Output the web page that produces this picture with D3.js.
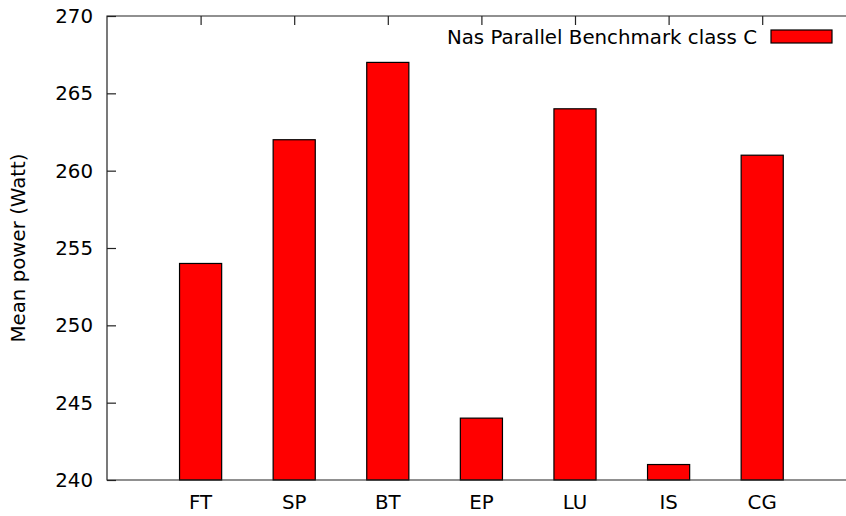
<!DOCTYPE html>
<html>
<head>
<meta charset="utf-8">
<script src="https://cdn.jsdelivr.net/npm/d3@7"></script>
<style>
	body { margin: 0; background: #fff; }
	svg { display: block; }
	text { font-family: "DejaVu Sans", sans-serif; fill: #000; }
</style>
</head>
<body>
<svg id="chart"></svg>
<script>
// values
const benchmarks = ["FT", "SP", "BT", "EP", "LU", "IS", "CG"]
const meanPower = [254, 262, 267, 244, 264, 241, 261]
const yTicks = [240, 245, 250, 255, 260, 265, 270]
const seriesName = "Nas Parallel Benchmark class C"
const yTitle = "Mean power (Watt)"

const width = 846
const height = 516
const margin = {top: 16, left: 107, bottom: 36}
const fontSize = 19.8
const tickLen = 9
const barWidth = 0.45

const x = d3.scaleLinear().domain([0, 8]).range([margin.left, margin.left + 8 * 93.6])
const y = d3.scaleLinear().domain([240, 270]).range([height - margin.bottom, margin.top])

const svg = d3.select("#chart")
	.attr("width", width)
	.attr("height", height)

// y axis, ticks pointing inward
const yAxis = svg.append("g")
	.attr("transform", "translate(" + x(0) + ",0)")
	.call(d3.axisRight(y).tickValues(yTicks).tickSize(tickLen).tickFormat(""))
yAxis.select(".domain").remove()
yAxis.selectAll("line").attr("stroke", "#222").attr("stroke-width", 1.2)
svg.append("g")
	.selectAll("text")
	.data(yTicks)
	.join("text")
	.attr("x", x(0) - 14)
	.attr("y", d => y(d))
	.attr("dy", "0.36em")
	.attr("text-anchor", "end")
	.style("font-size", fontSize + "px")
	.text(d => d)

// x axis labels and mirrored ticks on top
const cats = benchmarks.map((b, i) => i + 1)
const xAxisTop = svg.append("g")
	.attr("transform", "translate(0," + y(270) + ")")
	.call(d3.axisBottom(x).tickValues(cats).tickSize(tickLen).tickFormat(""))
xAxisTop.select(".domain").remove()
xAxisTop.selectAll("line").attr("stroke", "#222").attr("stroke-width", 1.2)
svg.append("g")
	.selectAll("text")
	.data(benchmarks)
	.join("text")
	.attr("x", (d, i) => x(i + 1))
	.attr("y", y(240) + 29)
	.attr("text-anchor", "middle")
	.style("font-size", fontSize + "px")
	.text(d => d)

// bars (cover the bottom ticks, as in the original)
svg.append("g")
	.selectAll("rect")
	.data(meanPower)
	.join("rect")
	.attr("x", (d, i) => x(i + 1 - barWidth / 2))
	.attr("y", d => y(d))
	.attr("width", x(barWidth) - x(0))
	.attr("height", d => y(240) - y(d))
	.attr("fill", "#ff0000")
	.attr("stroke", "#000")
	.attr("stroke-width", 1.2)

// border (right side lies outside the picture)
svg.append("path")
	.attr("d", "M" + x(8) + "," + y(270) + "H" + x(0) + "V" + y(240) + "H" + x(8))
	.attr("fill", "none")
	.attr("stroke", "#222")
	.attr("stroke-width", 1.2)

// y title
svg.append("text")
	.attr("transform", "translate(25," + (y(255)) + ") rotate(-90)")
	.attr("text-anchor", "middle")
	.style("font-size", fontSize + "px")
	.text(yTitle)

// legend
svg.append("text")
	.attr("x", 757)
	.attr("y", 36.5)
	.attr("dy", "0.36em")
	.attr("text-anchor", "end")
	.style("font-size", fontSize + "px")
	.text(seriesName)
svg.append("rect")
	.attr("x", 771)
	.attr("y", 30)
	.attr("width", 61)
	.attr("height", 13)
	.attr("fill", "#ff0000")
	.attr("stroke", "#000")
	.attr("stroke-width", 1.2)
</script>
</body>
</html>
